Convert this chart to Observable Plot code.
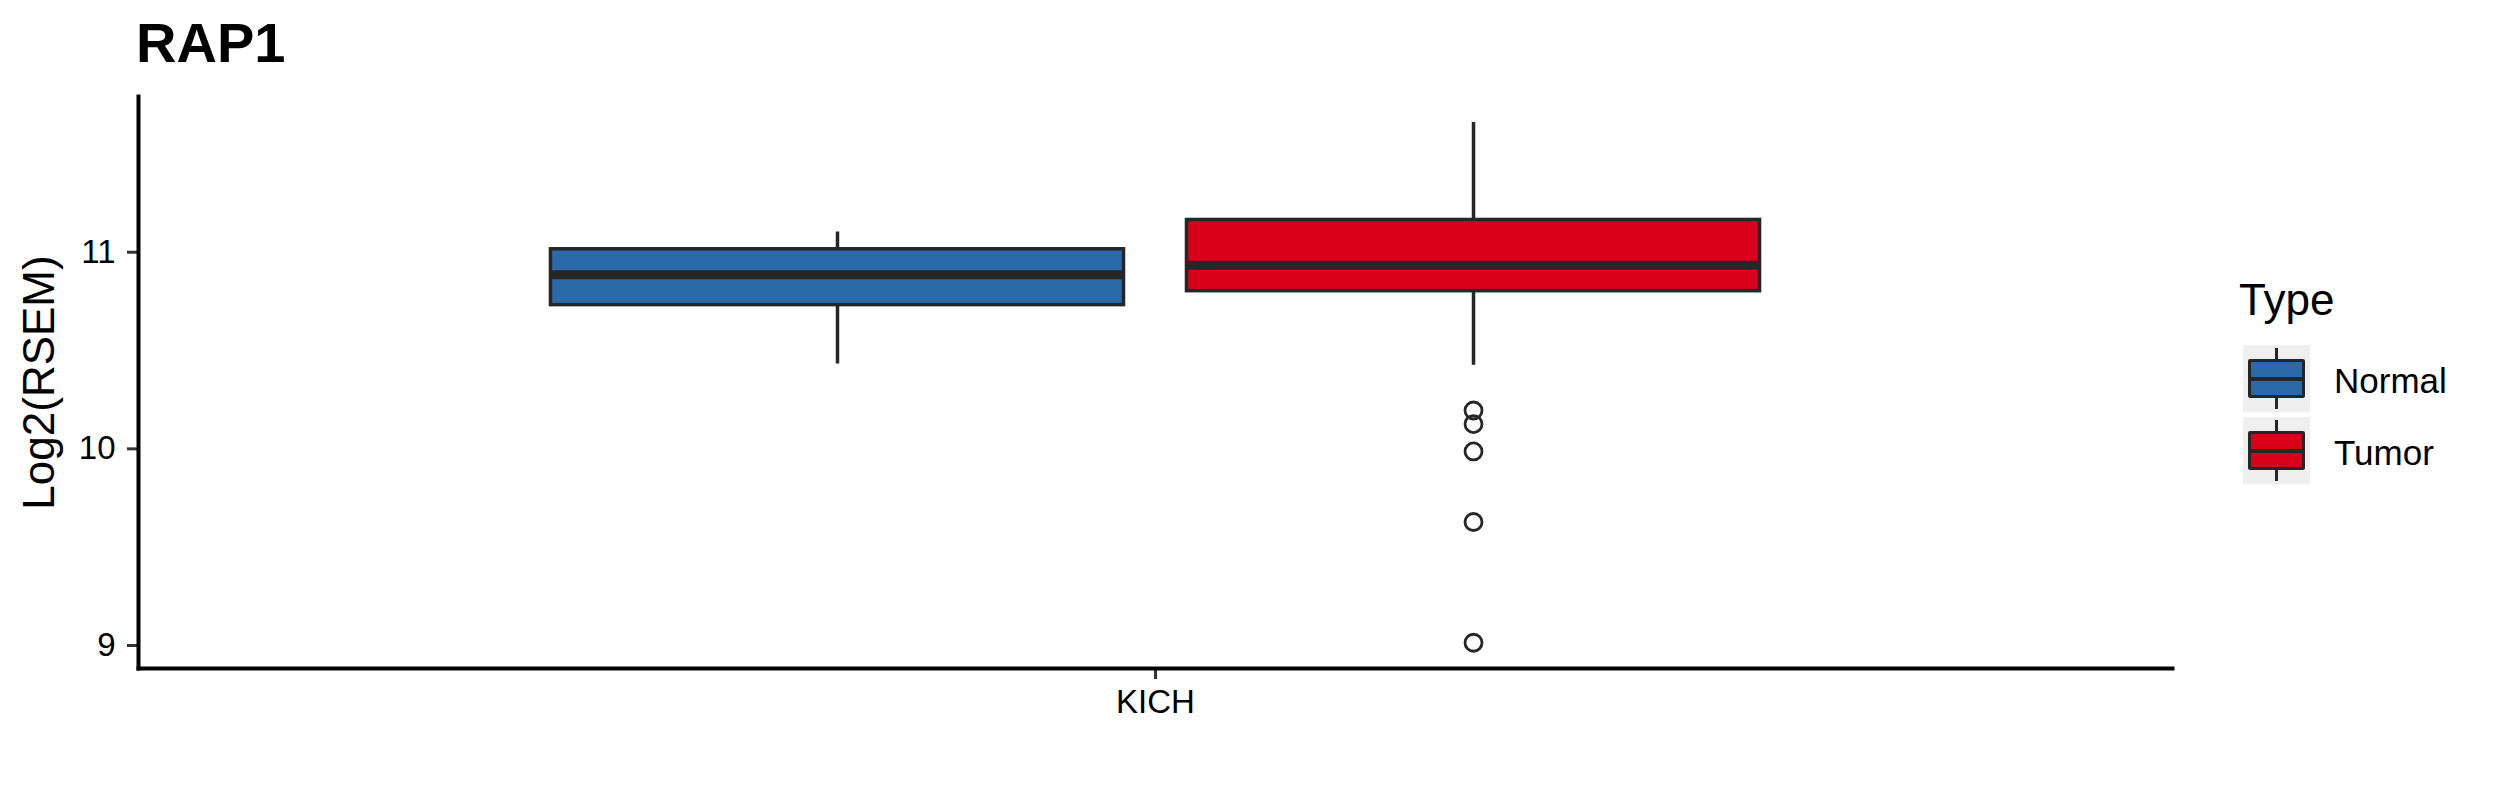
<!DOCTYPE html>
<html><head><meta charset="utf-8">
<script src="https://cdn.jsdelivr.net/npm/d3@7"></script>
<script src="https://cdn.jsdelivr.net/npm/@observablehq/plot@0.6"></script>
<style>
html,body{margin:0;padding:0;background:#fff;}
#wrap{position:relative;width:2499px;height:800px;overflow:hidden;font-family:"Liberation Sans",Arial,sans-serif;color:#000;background:#fff;}
#title{position:absolute;left:136px;top:15px;font-size:56px;line-height:56px;font-weight:bold;white-space:nowrap;}
#chart{position:absolute;left:0;top:80px;}
.legtitle{position:absolute;left:2239px;top:278px;font-size:44px;line-height:44px;white-space:nowrap;}
.key{position:absolute;left:2243px;width:67px;height:67px;background:#efefef;}
.whisk{position:absolute;left:32px;top:3px;width:3px;height:61px;background:#262626;}
.kbox{position:absolute;left:5px;width:57px;height:39px;top:14px;box-sizing:border-box;border:3px solid #262626;border-radius:2px;}
.kmed{position:absolute;left:0;right:0;top:15px;height:4px;background:#262626;}
.klab{position:absolute;left:2334px;font-size:35px;line-height:35px;white-space:nowrap;}
</style>
</head>
<body>
<div id="wrap">
  <div id="title"></div>
  <div id="chart"></div>
  <div id="legend"></div>
</div>
<script>
const gene = "RAP1";
const categories = ["KICH"];
const types = ["Normal", "Tumor"];
const typeColors = ["#2b6aa8", "#d9001a"];
const q1 = [10.731, 10.802];
const medians = [10.886, 10.934];
const q3 = [11.015, 11.164];
const whiskerLow = [10.432, 10.425];
const whiskerHigh = [11.103, 11.66];
const tumorOutliers = [10.195, 10.126, 9.987, 9.628, 9.014];
const yTicks = [9, 10, 11];
const yLabel = "Log2(RSEM)";
const legendTitle = "Type";

const stats = types.map((t, i) => ({cat: categories[0], type: t, q1: q1[i], med: medians[i], q3: q3[i], lo: whiskerLow[i], hi: whiskerHigh[i]}));
const outliers = tumorOutliers.map(v => ({cat: categories[0], type: "Tumor", value: v}));

document.getElementById("title").textContent = gene;

const ink = "#262626";
const chart = Plot.plot({
  width: 2200, height: 720,
  marginTop: 16, marginBottom: 132, marginLeft: 138, marginRight: 28,
  style: {fontFamily: '"Liberation Sans", Arial, sans-serif', fontSize: "33px", color: "#000", background: "#fff", overflow: "visible"},
  fx: {domain: categories, padding: 0, round: false, label: null},
  x: {domain: types, paddingInner: 0.099, paddingOuter: 0.6485, round: false, axis: null},
  y: {domain: [8.883, 11.792]},
  color: {domain: types, range: typeColors},
  marks: [
    Plot.ruleX(stats, {fx: "cat", x: "type", y1: "lo", y2: "hi", stroke: ink, strokeWidth: 3.5}),
    Plot.barY(stats, {fx: "cat", x: "type", y1: "q1", y2: "q3", fill: "type", stroke: ink, strokeWidth: 3.5, inset: 0}),
    Plot.tickY(stats, {fx: "cat", x: "type", y: "med", stroke: ink, strokeWidth: 9}),
    Plot.dot(outliers, {fx: "cat", x: "type", y: "value", r: 8.5, stroke: ink, strokeWidth: 2.8, fill: "none"}),
    Plot.axisY({ticks: yTicks, tickFormat: d3.format("d"), tickSize: 11, tickPadding: 12, strokeWidth: 3, stroke: "#333", fill: "#000", label: null, fontSize: 33}),
    Plot.axisY({ticks: [], tickSize: 0, label: yLabel, labelAnchor: "center", labelArrow: "none", labelOffset: 116, fontSize: 44, fill: "#000"}),
    Plot.axisFx({anchor: "bottom", tickSize: 11, tickPadding: 10, strokeWidth: 3, stroke: "#333", fill: "#000", label: null, fontSize: 33}),
    Plot.frame({anchor: "left", stroke: "#000", strokeWidth: 4}),
    Plot.frame({anchor: "bottom", stroke: "#000", strokeWidth: 4})
  ]
});
document.getElementById("chart").appendChild(chart);

const leg = document.getElementById("legend");
const lt = document.createElement("div");
lt.className = "legtitle"; lt.textContent = legendTitle; leg.appendChild(lt);
types.forEach((t, i) => {
  const top = 345 + i * 72;
  const key = document.createElement("div");
  key.className = "key"; key.style.top = top + "px";
  const w = document.createElement("div"); w.className = "whisk"; key.appendChild(w);
  const b = document.createElement("div"); b.className = "kbox"; b.style.background = typeColors[i];
  const m = document.createElement("div"); m.className = "kmed"; b.appendChild(m);
  key.appendChild(b);
  leg.appendChild(key);
  const lab = document.createElement("div");
  lab.className = "klab"; lab.style.top = (top + 18.4) + "px"; lab.textContent = t;
  leg.appendChild(lab);
});
</script>
</body></html>
